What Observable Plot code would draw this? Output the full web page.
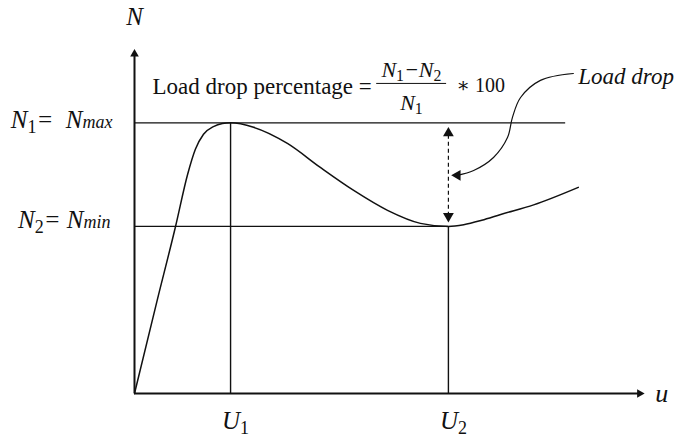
<!DOCTYPE html>
<html>
<head>
<meta charset="utf-8">
<script src="https://cdn.jsdelivr.net/npm/d3@7"></script>
<script src="https://cdn.jsdelivr.net/npm/@observablehq/plot@0.6"></script>
<style>
  html, body { margin: 0; padding: 0; background: #fff; }
  svg { display: block; }
</style>
</head>
<body>
<div id="chart"></div>
<script>
// ---- data (u, N in arbitrary units) ----
const curveU = [0, 0.5, 0.91, 1.18, 1.35, 1.53, 1.75, 1.95, 2.13, 2.64, 3.39, 4.12, 4.86, 5.61, 6.34, 6.96, 7.3, 7.7, 8.12, 8.85, 9.84];
const curveN = [0, 2.7, 4.87, 6.4, 7.12, 7.56, 7.78, 7.87, 7.89, 7.76, 7.29, 6.59, 5.92, 5.34, 4.96, 4.87, 4.92, 5.05, 5.22, 5.5, 6.01];
const U1 = 2.13, U2 = 6.96;
const N1 = 7.89, N2 = 4.87;
const N1LineEnd = 9.56;
const xMax = 11.33, yMax = 10;
const axisEndU = 11.2, axisEndN = 9.9;

// "Load drop" leader curve
const leaderU = [9.73, 9.00, 8.56, 8.38, 8.27, 7.96, 7.52, 7.16];
const leaderN = [9.33, 9.13, 8.63, 8.05, 7.46, 6.88, 6.50, 6.36];

// text labels
const labelText = ["N_{1}=  N_{max}", "N_{2}= N_{min}", "U_{1}", "U_{2}", "u", "N", "Load drop"];
const labelU = [0, 0, U1, U2, 11.69, 0, 9.84];
const labelN = [7.96, 5.07, -0.79, -0.79, 0, 10.98, 9.25];

const formulaLeft = "Load drop percentage =";
const formulaNum = "N_{1}−N_{2}";
const formulaDen = "N_{1}";
const formulaTimes = "∗ 100";
const formulaU = [0.40, 6.14, 6.14, 7.14];
const formulaN = [8.95, 9.43, 8.47, 8.98];
const fracBar = {u1: 5.37, u2: 6.92, n: 9.04};

const curve = curveU.map((u, i) => ({u, n: curveN[i]}));
const leader = leaderU.map((u, i) => ({u, n: leaderN[i]}));

const serif = "'Liberation Serif', 'DejaVu Serif', serif";
const ink = "#111";

const plot = Plot.plot({
  width: 685,
  height: 440,
  marginLeft: 134,
  marginRight: 40,
  marginTop: 50,
  marginBottom: 47,
  x: {domain: [0, xMax], axis: null},
  y: {domain: [0, yMax], axis: null},
  style: {fontFamily: serif, background: "#fff", overflow: "visible"},
  marks: [
    // guide lines
    Plot.ruleY([N1], {x1: 0, x2: N1LineEnd, stroke: ink, strokeWidth: 1.2}),
    Plot.ruleY([N2], {x1: 0, x2: U2, stroke: ink, strokeWidth: 1.2}),
    Plot.ruleX([U1], {y1: 0, y2: N1, stroke: ink, strokeWidth: 1.4}),
    Plot.ruleX([U2], {y1: 0, y2: N2, stroke: ink, strokeWidth: 1.4}),
    // axes
    Plot.ruleX([0], {y1: 0, y2: axisEndN, stroke: ink, strokeWidth: 2}),
    Plot.ruleY([0], {x1: 0, x2: axisEndU, stroke: ink, strokeWidth: 2}),
    Plot.dot([{u: 0, n: axisEndN}], {x: "u", y: "n", symbol: "triangle", r: 3.2, fill: ink, stroke: null}),
    Plot.dot([{u: axisEndU, n: 0}], {x: "u", y: "n", symbol: "triangle", r: 3.2, fill: ink, stroke: null, rotate: 90}),
    // main curve
    Plot.line(curve, {x: "u", y: "n", curve: "monotone-x", stroke: ink, strokeWidth: 1.5}),
    // dashed double arrow
    Plot.ruleX([U2], {y1: N2 + 0.3, y2: N1 - 0.3, stroke: ink, strokeWidth: 1.2, strokeDasharray: "4,3"}),
    Plot.dot([{u: U2, n: N1 - 0.3}], {x: "u", y: "n", symbol: "triangle", r: 4, fill: ink, stroke: null}),
    Plot.dot([{u: U2, n: N2 + 0.3}], {x: "u", y: "n", symbol: "triangle", r: 4, fill: ink, stroke: null, rotate: 180}),
    // leader
    Plot.line(leader, {x: "u", y: "n", curve: "catmull-rom", stroke: ink, strokeWidth: 1.2}),
    Plot.dot([{u: leaderU[leaderU.length - 1], n: leaderN[leaderN.length - 1]}], {x: "u", y: "n", symbol: "triangle", r: 4, fill: ink, stroke: null, rotate: -90}),
    // labels
    Plot.text([0], {x: i => labelU[i], y: i => labelN[i], text: i => labelText[i], textAnchor: "end", dx: -22, fontSize: 25, fontStyle: "italic", fill: ink}),
    Plot.text([1], {x: i => labelU[i], y: i => labelN[i], text: i => labelText[i], textAnchor: "end", dx: -24, fontSize: 25, fontStyle: "italic", fill: ink}),
    Plot.text([2, 3], {x: i => labelU[i], y: i => labelN[i], text: i => labelText[i], textAnchor: "middle", dx: 5, fontSize: 25, fontStyle: "italic", fill: ink}),
    Plot.text([4], {x: i => labelU[i], y: i => labelN[i], text: i => labelText[i], textAnchor: "middle", fontSize: 26, fontStyle: "italic", fill: ink}),
    Plot.text([5], {x: i => labelU[i], y: i => labelN[i], text: i => labelText[i], textAnchor: "middle", fontSize: 25, fontStyle: "italic", fill: ink}),
    Plot.text([6], {x: i => labelU[i], y: i => labelN[i], text: i => labelText[i], textAnchor: "start", fontSize: 23, fontStyle: "italic", fill: ink}),
    // formula
    Plot.text([formulaLeft], {x: formulaU[0], y: formulaN[0], text: d => d, textAnchor: "start", fontSize: 23, fill: ink}),
    Plot.text([formulaNum], {x: formulaU[1], y: formulaN[1], text: d => d, textAnchor: "middle", fontSize: 22, fontStyle: "italic", fill: ink}),
    Plot.ruleY([fracBar.n], {x1: fracBar.u1, x2: fracBar.u2, stroke: ink, strokeWidth: 1}),
    Plot.text([formulaDen], {x: formulaU[2], y: formulaN[2], text: d => d, textAnchor: "middle", fontSize: 22, fontStyle: "italic", fill: ink}),
    Plot.text([formulaTimes], {x: formulaU[3], y: formulaN[3], text: d => d, textAnchor: "start", fontSize: 20, fill: ink})
  ]
});

// turn "_{x}" markup into subscript tspans
plot.querySelectorAll("text").forEach(t => {
  const s = t.textContent;
  if (!s.includes("_{")) return;
  t.textContent = "";
  const re = /_\{([^}]*)\}|([^_]+)/g;
  let m;
  const ns = "http://www.w3.org/2000/svg";
  while ((m = re.exec(s))) {
    const span = document.createElementNS(ns, "tspan");
    if (m[1] !== undefined) {
      const isWord = /[a-z]/.test(m[1]);
      span.textContent = m[1];
      span.setAttribute("font-size", "72%");
      span.setAttribute("baseline-shift", isWord ? "0" : "-25%");
      if (!isWord) span.setAttribute("font-style", "normal");
    } else {
      span.textContent = m[2];
    }
    t.appendChild(span);
  }
});
plot.querySelectorAll("text").forEach(t => t.setAttribute("xml:space", "preserve"));

document.getElementById("chart").appendChild(plot);
</script>
</body>
</html>
